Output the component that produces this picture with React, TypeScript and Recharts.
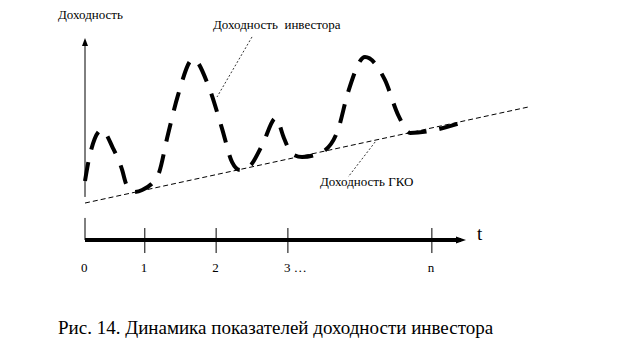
import { ComposedChart, Line, XAxis, YAxis, ReferenceLine } from 'recharts';

// time axis ticks (t units along the horizontal scale)
const timeTicks = [0, 13.5, 29.6, 45.8, 78.3];
const timeLabels = ['0', '1', '2', '3 …', 'n'];

// ГКО yield: straight line
const gkoX = [0, 100];
const gkoY = [17.6, 63.3];

// investor yield
const investorX = [0, 1.1, 3.8, 6.3, 8.4, 9.3, 11.1, 12.9, 16.5, 18.7, 21, 24.4, 27.8, 30.9, 33.2, 35, 37.2, 40, 43.1, 44.9, 46.7, 49, 53.5, 57.1, 59.4, 63.2, 67.7, 70.7, 73.4, 86.2];
const investorY = [28.1, 40.5, 52.4, 43.8, 33.3, 26.7, 22.9, 23.8, 31.0, 50, 69, 86.2, 73.8, 53.3, 37.1, 33.3, 35.2, 45.2, 58.1, 48.6, 41, 39.5, 41.9, 52.4, 70.5, 87.1, 76.2, 59.5, 51, 56.7];

// leader lines from the labels to the curves
const investorLeader = [{ x: 37.7, y: 96.7 }, { x: 29.8, y: 68.1 }];
const gkoLeader = [{ x: 65.5, y: 46.7 }, { x: 59.4, y: 30 }];

const gkoData = gkoX.map((x, i) => ({ x, gko: gkoY[i] }));
const investorData = investorX.map((x, i) => ({ x, inv: investorY[i] }));

const FONT = '"Liberation Serif", "Times New Roman", serif';

function ArrowSeg(props: any) {
  const { x1, y1, x2, y2, len = 8, half = 3, width = 1 } = props;
  const dx = x2 - x1;
  const dy = y2 - y1;
  const d = Math.hypot(dx, dy) || 1;
  const ux = dx / d;
  const uy = dy / d;
  const bx = x2 - ux * len;
  const by = y2 - uy * len;
  const pts = `${x2},${y2} ${bx - uy * half},${by + ux * half} ${bx + uy * half},${by - ux * half}`;
  return (
    <g>
      <line x1={x1} y1={y1} x2={x2 - ux * len * 0.5} y2={y2 - uy * len * 0.5} stroke="#000" strokeWidth={width} />
      <polygon points={pts} fill="#000" />
    </g>
  );
}

function TimeTick(props: any) {
  const { x, y, payload } = props;
  const idx = timeTicks.indexOf(payload.value);
  return (
    <text x={x - 4} y={y - 10} fontFamily={FONT} fontSize={13} fill="#000" textAnchor="start">
      {timeLabels[idx]}
    </text>
  );
}

export default function App() {
  return (
    <div style={{ position: 'absolute', left: 0, top: 0, width: 625, height: 362, background: '#fff' }}>
      <ComposedChart width={625} height={362} margin={{ top: 30, right: 97, bottom: 50, left: 85 }}>
        <XAxis
          dataKey="x"
          type="number"
          domain={[0, 100]}
          ticks={timeTicks}
          axisLine={false}
          tickLine={false}
          tickSize={0}
          tickMargin={0}
          height={30}
          interval={0}
          tick={<TimeTick />}
        />
        <YAxis type="number" domain={[-20, 100]} hide />

        {/* vertical yield axis */}
        <ReferenceLine
          segment={[{ x: 0, y: 20.5 }, { x: 0, y: 96.2 }]}
          ifOverflow="visible"
          shape={(p: any) => <ArrowSeg {...p} len={8} half={3} width={1} />}
        />
        {/* time axis */}
        <ReferenceLine segment={[{ x: 0, y: 0 }, { x: 0, y: 10.5 }]} stroke="#000" strokeWidth={1} ifOverflow="visible" />
        <ReferenceLine
          segment={[{ x: 0, y: 0 }, { x: 86, y: 0 }]}
          ifOverflow="visible"
          shape={(p: any) => <ArrowSeg {...p} len={10} half={3.5} width={4} />}
        />
        {timeTicks.slice(1).map((t) => (
          <ReferenceLine
            key={t}
            segment={[{ x: t, y: 5.7 }, { x: t, y: -6.2 }]}
            stroke="#000"
            strokeWidth={1}
            ifOverflow="visible"
          />
        ))}

        {/* leader lines */}
        <ReferenceLine segment={investorLeader} stroke="#000" strokeWidth={0.8} strokeDasharray="2 2" ifOverflow="visible" />
        <ReferenceLine segment={gkoLeader} stroke="#000" strokeWidth={0.8} strokeDasharray="2 2" ifOverflow="visible" />

        <Line
          data={gkoData}
          dataKey="gko"
          type="linear"
          stroke="#000"
          strokeWidth={1}
          strokeDasharray="5 3"
          dot={false}
          activeDot={false}
          isAnimationActive={false}
        />
        <Line
          data={investorData}
          dataKey="inv"
          type="monotone"
          stroke="#000"
          strokeWidth={4}
          strokeDasharray="19 13"
          dot={false}
          activeDot={false}
          isAnimationActive={false}
        />
      </ComposedChart>

      <svg width={625} height={362} style={{ position: 'absolute', left: 0, top: 0, pointerEvents: 'none' }}>
        <g fontFamily={FONT} fill="#000">
          <text x={58} y={19} fontSize={13}>Доходность</text>
          <text x={213} y={29} fontSize={13} style={{ whiteSpace: 'pre' }}>Доходность  инвестора</text>
          <text x={320} y={186} fontSize={13}>Доходность ГКО</text>
          <text x={477} y={240} fontSize={19}>t</text>
          <text x={58} y={334} fontSize={19}>Рис. 14. Динамика показателей доходности инвестора</text>
        </g>
      </svg>
    </div>
  );
}
